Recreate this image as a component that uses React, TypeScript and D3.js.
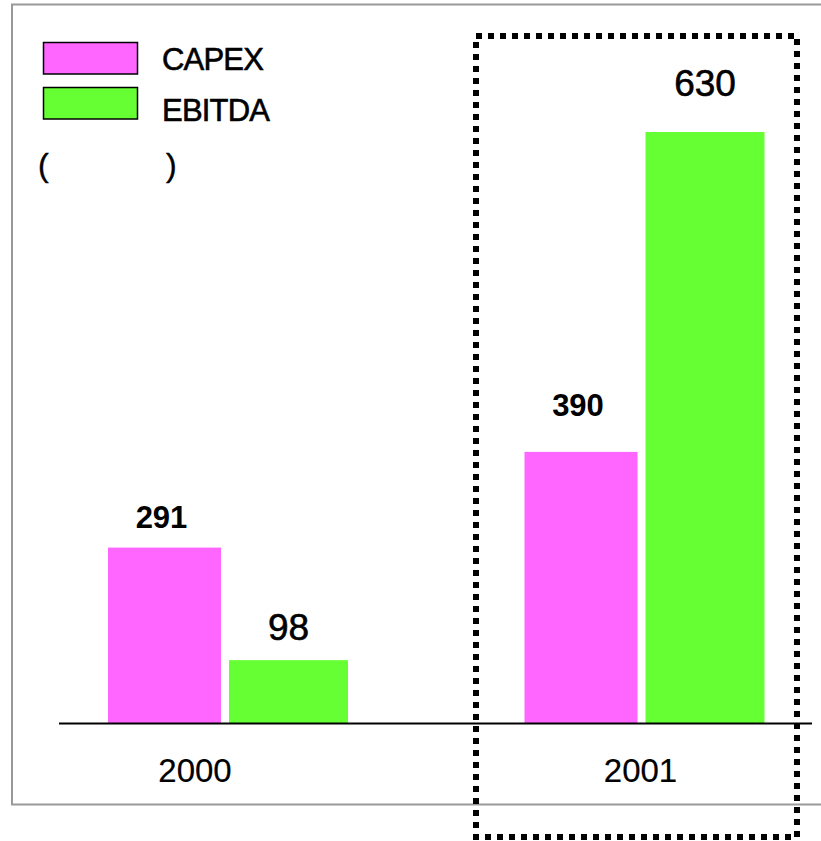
import React from "react";
import * as d3 from "d3";

// Data
const years = ["2000", "2001"];
const seriesNames = ["CAPEX", "EBITDA"];
const seriesColors = ["#FF66FF", "#66FF33"];
// Value labels printed above the bars
const capexLabels = [291, 390];
const ebitdaLabels = [98, 630];
// Bar heights as drawn (the source chart is not drawn to scale; estimated on the 630 bar's scale)
const capexBarValues = [187, 289];
const ebitdaBarValues = [67, 630];

const W = 821;
const H = 841;
const FONT = "'Liberation Sans', Arial, Helvetica, sans-serif";

export default function App() {
  const x = d3.scalePoint<string>().domain(years).range([228, 644.5]);
  const y = d3.scaleLinear().domain([0, 630]).range([723, 132]);

  const labelGap: Record<string, number> = { "2000": 20, "2001": 36 };
  const yearOffset: Record<string, number> = { "2000": -33, "2001": -4 };

  const series = [
    { name: seriesNames[0], color: seriesColors[0], bars: capexBarValues, labels: capexLabels, x0: -120, w: 113, bold: true, size: 31 },
    { name: seriesNames[1], color: seriesColors[1], bars: ebitdaBarValues, labels: ebitdaLabels, x0: 1, w: 119, bold: false, size: 37 },
  ];

  return (
    <svg
      width={W}
      height={H}
      style={{ position: "absolute", left: 0, top: 0, background: "#fff" }}
      fontFamily={FONT}
    >
      <rect x={0} y={0} width={W} height={H} fill="#fff" />
      {/* outer frame */}
      <rect x={12} y={4.5} width={830} height={800} fill="none" stroke="#999" strokeWidth={2} />

      {/* legend */}
      {series.map((s, i) => (
        <g key={s.name}>
          <rect x={43.5} y={42.5 + i * 45} width={94} height={31.5} fill={s.color} stroke="#000" strokeWidth={1.5} />
          <text x={162} y={70 + i * 51} fontSize={31} letterSpacing={-0.8} fill="#000" stroke="#000" strokeWidth={0.6}>
            {s.name}
          </text>
        </g>
      ))}
      <text x={38} y={176} fontSize={32} fill="#000" stroke="#000" strokeWidth={0.4}>(</text>
      <text x={166} y={176} fontSize={32} fill="#000" stroke="#000" strokeWidth={0.4}>)</text>

      {/* bars */}
      {series.map((s) =>
        years.map((yr, j) => {
          const cx = (x(yr) as number) + s.x0;
          const top = y(s.bars[j]);
          return (
            <g key={s.name + yr}>
              <rect x={cx} y={top} width={s.w} height={y(0) - top} fill={s.color} />
              <text
                x={cx + s.w / 2 - (s.bold ? 3 : 0)}
                y={top - labelGap[yr]}
                fontSize={s.size}
                fontWeight={s.bold ? "bold" : "normal"}
                textAnchor="middle"
                fill="#000"
                stroke={s.bold ? "none" : "#000"}
                strokeWidth={0.6}
              >
                {s.labels[j]}
              </text>
            </g>
          );
        })
      )}

      {/* baseline */}
      <line x1={59} x2={812} y1={723.5} y2={723.5} stroke="#000" strokeWidth={2} />

      {/* year labels */}
      {years.map((yr) => (
        <text key={yr} x={(x(yr) as number) + yearOffset[yr]} y={782} fontSize={33} textAnchor="middle" fill="#000" stroke="#000" strokeWidth={0.2}>
          {yr}
        </text>
      ))}

      {/* dotted highlight box */}
      <rect
        x={476}
        y={36}
        width={321}
        height={801}
        fill="none"
        stroke="#000"
        strokeWidth={6}
        strokeDasharray="6 6"
      />
    </svg>
  );
}
